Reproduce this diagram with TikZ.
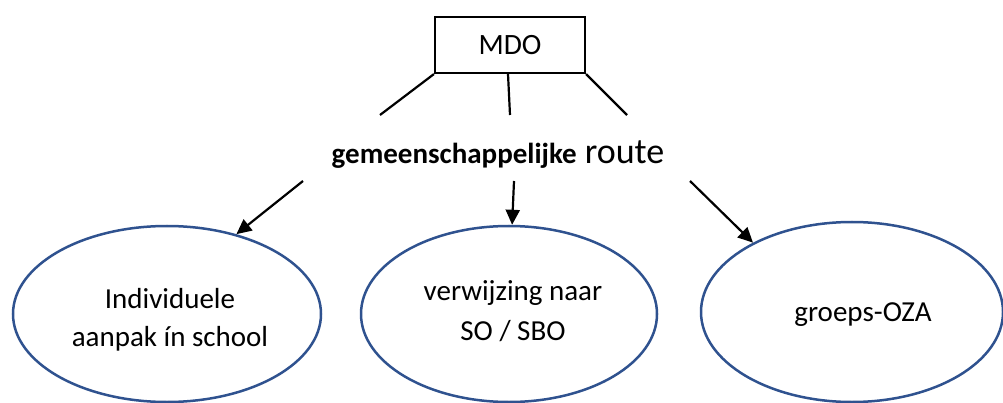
\documentclass[tikz,border=0pt]{standalone}
\usepackage{fontspec}
\setmainfont{Carlito}
\usetikzlibrary{shapes.geometric,arrows.meta}
\definecolor{ellblue}{HTML}{2F528F}
\begin{document}
\begin{tikzpicture}[x=1pt,y=-1pt,
  box/.style={draw, line width=2.2pt, minimum width=150pt, minimum height=56pt, inner sep=0pt, font=\fontsize{29.5}{34}\selectfont},
  oval/.style={ellipse, draw=ellblue, line width=2.5pt, inner sep=0pt},
  ovaltext/.style={inner sep=0pt, align=center, font=\fontsize{29}{38}\selectfont},
  link/.style={line width=2.2pt},
  arr/.style={line width=2.2pt, -{Triangle[length=15pt,width=14pt]}}]
\useasboundingbox (0,0) rectangle (1003,403);
% top box
\node[box] (mdo) at (510,45) {MDO};
% route text
\node[inner sep=0pt, anchor=base] (route) at (498,164) {{\fontsize{29}{32}\selectfont\bfseries gemeenschappelijke}\hspace{8pt}{\fontsize{36}{40}\selectfont route}};
% ellipses
\node[oval, minimum width=308pt, minimum height=176pt] (e1) at (167,314) {};
\node[oval, minimum width=296pt, minimum height=176pt] (e2) at (509,314) {};
\node[oval, minimum width=302pt, minimum height=180pt] (e3) at (852,312) {};
\node[ovaltext] (t1) at (170,320) {Individuele\\aanpak ín school};
\node[ovaltext, font=\fontsize{29}{40}\selectfont] (t2) at (513,311) {verwijzing naar\\SO / SBO};
\node[ovaltext] (t3) at (863,315) {groeps-OZA};
% line ends
\coordinate (u1) at (380,115);
\coordinate (u2) at (510,115);
\coordinate (u3) at (627,115);
\coordinate (d1) at (303,181);
\coordinate (d2) at (514,181);
\coordinate (d3) at (690,181);
\draw[link] (mdo.south west) -- (u1);
\draw[link] ([xshift=-2pt]mdo.south) -- (u2);
\draw[link] (mdo.south east) -- (u3);
\draw[arr] (d1) -- (e1.49.6);
\draw[arr] (d2) -- (e2.88);
\draw[arr] (d3) -- (e3.145.5);
\end{tikzpicture}
\end{document}
